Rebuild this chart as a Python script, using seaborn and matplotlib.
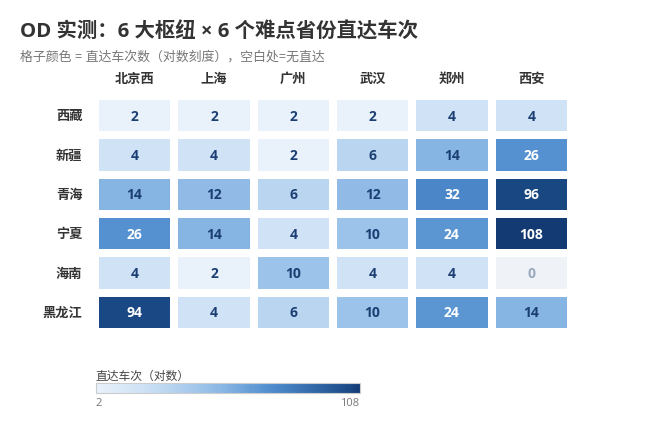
import numpy as np
import pandas as pd
import matplotlib
matplotlib.use("Agg")
import matplotlib.pyplot as plt
from matplotlib.colors import LinearSegmentedColormap, LogNorm
import seaborn as sns

hubs = ["北京西", "上海", "广州", "武汉", "郑州", "西安"]
provinces = ["西藏", "新疆", "青海", "宁夏", "海南", "黑龙江"]
xizang = [2, 2, 2, 2, 4, 4]
xinjiang = [4, 4, 2, 6, 14, 26]
qinghai = [14, 12, 6, 12, 32, 96]
ningxia = [26, 14, 4, 10, 24, 108]
hainan = [4, 2, 10, 4, 4, 0]
heilongjiang = [94, 4, 6, 10, 24, 14]

df = pd.DataFrame([xizang, xinjiang, qinghai, ningxia, hainan, heilongjiang],
                  index=provinces, columns=hubs)

sns.set_theme(style="white")
plt.rcParams['font.family'] = ['Open Sans', 'Noto Sans CJK SC', 'DejaVu Sans']

cmap = LinearSegmentedColormap.from_list("od", [
    (0.0, "#e9f1fb"), (0.174, "#cfe2f6"), (0.275, "#b9d5f0"), (0.403, "#9cc3ea"),
    (0.488, "#86b4e3"), (0.643, "#5591d0"), (0.695, "#4a86c8"), (0.965, "#1b4a86"),
    (1.0, "#143a73")])
cmap.set_bad("#eff3f8")
vmin, vmax = 2, 108

fig = plt.figure(figsize=(6.66, 4.35), dpi=100)
ax = fig.add_axes([0.1426, 0.2345, 0.7147, 0.5425])
cax = fig.add_axes([0.144, 0.0943, 0.396, 0.023])

sns.heatmap(df, ax=ax, cmap=cmap, norm=LogNorm(vmin=vmin, vmax=vmax),
            linewidths=4.5, linecolor="white", annot=True, fmt="d",
            annot_kws={"fontsize": 10, "fontweight": "bold"},
            cbar_ax=cax, cbar_kws={"orientation": "horizontal"})

vals = df.values.flatten()
for t, v in zip(ax.texts, vals):
    if v == 0:
        t.set_color("#9aa8bd")
    elif v >= 20:
        t.set_color("white")
    else:
        t.set_color("#1c3f73")

ax.xaxis.tick_top()
ax.tick_params(axis="x", length=0, pad=8)
ax.tick_params(axis="y", length=0, pad=9)
ax.set_xticklabels(hubs, fontsize=9.5, fontweight="bold", color="#333333", rotation=0)
ax.set_yticklabels(provinces, fontsize=9.5, fontweight="bold", color="#333333", rotation=0)
ax.set_xlabel("")
ax.set_ylabel("")

cb = ax.collections[0].colorbar
cb.set_ticks([vmin, vmax])
cb.ax.minorticks_off()
cb.set_ticklabels([str(vmin), str(vmax)])
cax.tick_params(length=0, labelsize=8, labelcolor="#777777", pad=3)
tl = cax.get_xticklabels()
tl[0].set_ha("left")
tl[-1].set_ha("right")
cb.outline.set_edgecolor("#cccccc")
cb.outline.set_linewidth(0.8)
cax.set_title("直达车次（对数）", loc="left", fontsize=8.5, color="#444444", pad=3)

fig.text(0.030, 0.926, "OD 实测：6 大枢纽 × 6 个难点省份直达车次", fontsize=14.7,
         fontweight="bold", color="#333333", va="center", ha="left")
fig.text(0.030, 0.868, "格子颜色 = 直达车次数（对数刻度），空白处=无直达", fontsize=9.3,
         color="#777777", va="center", ha="left")

fig.savefig("out.png", dpi=100, facecolor="white")
